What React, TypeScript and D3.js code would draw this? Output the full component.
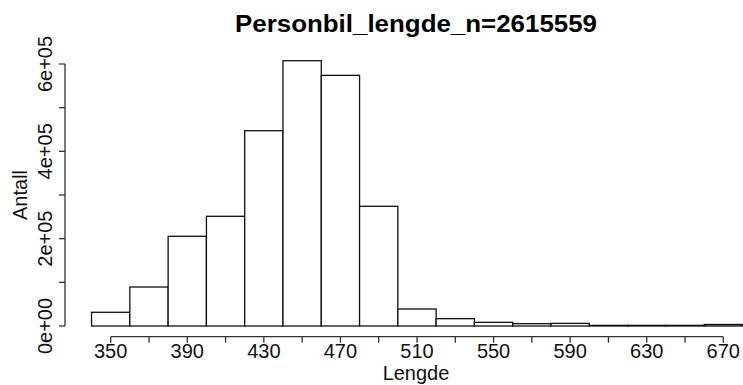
import React from "react";
import * as d3 from "d3";

const breaks = [340, 360, 380, 400, 420, 440, 460, 480, 500, 520, 540, 560, 580, 600, 620, 640, 660, 680];
const counts = [31400, 89300, 205400, 251200, 447200, 607500, 574000, 274100, 38900, 16800, 8400, 5300, 6000, 1500, 1500, 1500, 3500];
const xTicks = [350, 370, 390, 410, 430, 450, 470, 490, 510, 530, 550, 570, 590, 610, 630, 650, 670];
const xLabels = [350, 390, 430, 470, 510, 550, 590, 630, 670];
const yTicks = [0, 100000, 200000, 300000, 400000, 500000, 600000];
const yLabels = ["0e+00", "2e+05", "4e+05", "6e+05"];
const yLabelValues = [0, 200000, 400000, 600000];
const title = "Personbil_lengde_n=2615559";
const xTitle = "Lengde";
const yTitle = "Antall";

const W = 743;
const H = 385;
const FONT = "'Liberation Sans', Arial, sans-serif";

export default function App() {
  const x = d3.scaleLinear().domain([350, 670]).range([110.7, 723.3]);
  const y = d3.scaleLinear().domain([0, 600000]).range([326, 64]);
  const axisY = 336.7;
  const axisX = 65;
  const bins = counts.map((c, i) => ({ x0: breaks[i], x1: breaks[i + 1], c }));
  return (
    <svg
      width={W}
      height={H}
      style={{ position: "absolute", left: 0, top: 0, background: "#fff" }}
      fontFamily={FONT}
    >
      <rect x={0} y={0} width={W} height={H} fill="#fff" />
      <text
        x={416}
        y={31.5}
        textAnchor="middle"
        fontSize={23}
        fontWeight="bold"
        textLength={362}
        lengthAdjust="spacingAndGlyphs"
        fill="#000"
      >
        {title}
      </text>
      {bins.map((b, i) => (
        <rect
          key={i}
          x={x(b.x0)}
          y={y(b.c)}
          width={x(b.x1) - x(b.x0)}
          height={y(0) - y(b.c)}
          fill="#fff"
          stroke="#111"
          strokeWidth={1.3}
        />
      ))}
      {/* x axis */}
      <line x1={x(350)} x2={x(670)} y1={axisY} y2={axisY} stroke="#333" strokeWidth={1.3} />
      {xTicks.map((t) => (
        <line key={t} x1={x(t)} x2={x(t)} y1={axisY} y2={axisY + 6} stroke="#333" strokeWidth={1.3} />
      ))}
      {xLabels.map((t) => (
        <text key={t} x={x(t)} y={357.5} textAnchor="middle" fontSize={20} fill="#111">
          {t}
        </text>
      ))}
      <text x={416} y={380} textAnchor="middle" fontSize={20} fill="#111">
        {xTitle}
      </text>
      {/* y axis */}
      <line x1={axisX} x2={axisX} y1={y(0)} y2={y(600000)} stroke="#333" strokeWidth={1.3} />
      {yTicks.map((t) => (
        <line key={t} x1={axisX - 6} x2={axisX} y1={y(t)} y2={y(t)} stroke="#333" strokeWidth={1.3} />
      ))}
      {yLabelValues.map((t, i) => (
        <text
          key={t}
          transform={`translate(51.5,${y(t)}) rotate(-90)`}
          textAnchor="middle"
          fontSize={20}
          fill="#111"
        >
          {yLabels[i]}
        </text>
      ))}
      <text
        transform={`translate(27,${(y(0) + y(600000)) / 2}) rotate(-90)`}
        textAnchor="middle"
        fontSize={20}
        fill="#111"
      >
        {yTitle}
      </text>
    </svg>
  );
}
